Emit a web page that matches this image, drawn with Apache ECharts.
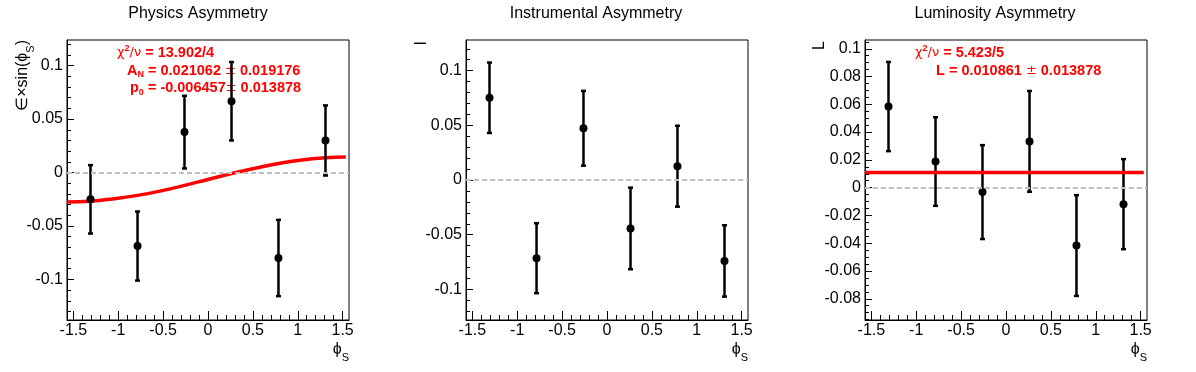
<!DOCTYPE html>
<html>
<head>
  <meta charset="UTF-8">
  <title>Asymmetries</title>
  <script src="https://cdn.jsdelivr.net/npm/echarts@6.0.0/dist/echarts.min.js"></script>
  <style>
    html, body { margin: 0; padding: 0; background: #fff; }
    #chart { width: 1196px; height: 372px; }
  </style>
</head>
<body>
  <div id="chart"></div>
  <script>
    // bin centres in phi_S
    const phiBins = [-1.309, -0.785, -0.262, 0.262, 0.785, 1.309]

    const physVal = [-0.0251, -0.0688, 0.0378, 0.0667, -0.0800, 0.0300]
    const physErr = [0.0320, 0.0323, 0.0340, 0.0367, 0.0357, 0.0328]

    const instVal = [0.0752, -0.0715, 0.0473, -0.0443, 0.0126, -0.0740]
    const instErr = [0.0322, 0.0320, 0.0342, 0.0373, 0.0370, 0.0326]

    const lumiVal = [0.0584, 0.0188, -0.0032, 0.0333, -0.0417, -0.0119]
    const lumiErr = [0.0321, 0.0319, 0.0338, 0.0363, 0.0363, 0.0324]

    // fitted curve of the physics panel
    const fitX = [-1.571, -1.309, -1.047, -0.785, -0.524, -0.262, 0, 0.262, 0.524, 0.785, 1.047, 1.309, 1.535]
    const fitY = [-0.0275, -0.0268, -0.0245, -0.0214, -0.0172, -0.0120, -0.0065, -0.0010, 0.0040, 0.0084, 0.0118, 0.0138, 0.0145]

    // constant fit of the luminosity panel
    const lumiFitX = [-1.571, 1.535]
    const lumiFit = 0.010861

    const xTicks = [-1.5, -1, -0.5, 0, 0.5, 1, 1.5]
    const physTicks = [-0.1, -0.05, 0, 0.05, 0.1]
    const instTicks = [-0.1, -0.05, 0, 0.05, 0.1]
    const lumiTicks = [-0.08, -0.06, -0.04, -0.02, 0, 0.02, 0.04, 0.06, 0.08, 0.1]

    const titles = ['Physics Asymmetry', 'Instrumental Asymmetry', 'Luminosity Asymmetry']

    const font = 'Liberation Sans, Arial, Helvetica, sans-serif'
    const red = '#ff0000'
    const xMin = -1.5708, xMax = 1.5708

    function minorTicks(lo, hi, step) {
      const out = []
      const n0 = Math.ceil(lo / step - 1e-9), n1 = Math.floor(hi / step + 1e-9)
      for (let i = n0; i <= n1; i++) out.push(Math.round(i * step * 1e6) / 1e6)
      return out
    }

    const panels = [
      { left: 67, vals: physVal, errs: physErr, yMin: -0.138, yMax: 0.124, ticks: physTicks, minor: 0.01, center: 198 },
      { left: 466, vals: instVal, errs: instErr, yMin: -0.128, yMax: 0.128, ticks: instTicks, minor: 0.01, center: 596 },
      { left: 865, vals: lumiVal, errs: lumiErr, yMin: -0.0953, yMax: 0.1063, ticks: lumiTicks, minor: 0.005, center: 995 }
    ]

    function renderBar(params, api) {
      const x = api.value(0), y = api.value(1), e = api.value(2)
      const c = api.coord([x, y])
      const hi = api.coord([x, y + e])
      const lo = api.coord([x, y - e])
      const st = { stroke: '#000', lineWidth: 2.5 }
      return {
        type: 'group',
        children: [
          { type: 'line', shape: { x1: c[0], y1: hi[1], x2: c[0], y2: lo[1] }, style: st },
          { type: 'line', shape: { x1: c[0] - 2.5, y1: hi[1], x2: c[0] + 2.5, y2: hi[1] }, style: st },
          { type: 'line', shape: { x1: c[0] - 2.5, y1: lo[1], x2: c[0] + 2.5, y2: lo[1] }, style: st },
          { type: 'circle', shape: { cx: c[0], cy: c[1], r: 4 }, style: { fill: '#000' } }
        ]
      }
    }

    const grid = [], xAxis = [], yAxis = [], series = []
    const black = { color: '#000', width: 1 }

    panels.forEach((p, i) => {
      grid.push({ left: p.left, top: 40, width: 282, height: 280, show: true, borderColor: '#000', borderWidth: 1 })

      xAxis.push({
        type: 'value', gridIndex: i, min: xMin, max: xMax, position: 'bottom',
        axisLine: { show: true, onZero: false, lineStyle: black },
        axisTick: { show: true, inside: true, length: 9, customValues: xTicks, lineStyle: black },
        axisLabel: { customValues: xTicks, color: '#000', fontSize: 16, fontFamily: font, margin: 3 },
        splitLine: { show: false }
      })
      xAxis.push({
        type: 'value', gridIndex: i, min: xMin, max: xMax, position: 'bottom',
        axisLine: { show: false, onZero: false },
        axisTick: { show: true, inside: true, length: 5, customValues: minorTicks(-1.5, 1.5, 0.1), lineStyle: black },
        axisLabel: { show: false },
        splitLine: { show: false }
      })

      yAxis.push({
        type: 'value', gridIndex: i, min: p.yMin, max: p.yMax, position: 'left',
        axisLine: { show: true, onZero: false, lineStyle: black },
        axisTick: { show: true, inside: true, length: 7, customValues: p.ticks, lineStyle: black },
        axisLabel: { customValues: p.ticks, color: '#000', fontSize: 16, fontFamily: font, margin: 4 },
        splitLine: { show: false }
      })
      yAxis.push({
        type: 'value', gridIndex: i, min: p.yMin, max: p.yMax, position: 'left',
        axisLine: { show: false, onZero: false },
        axisTick: { show: true, inside: true, length: 4, customValues: minorTicks(p.yMin, p.yMax, p.minor), lineStyle: black },
        axisLabel: { show: false },
        splitLine: { show: false }
      })

      series.push({
        type: 'custom',
        xAxisIndex: 2 * i, yAxisIndex: 2 * i,
        renderItem: renderBar,
        data: phiBins.map((x, k) => [x, p.vals[k], p.errs[k]]),
        z: 3,
        markLine: {
          silent: true, symbol: ['none', 'none'], label: { show: false },
          lineStyle: { type: [5, 3], color: '#c0c0c0', width: 2 },
          data: [{ yAxis: 0 }]
        }
      })
    })

    series.push({
      type: 'line', xAxisIndex: 0, yAxisIndex: 0, smooth: true, showSymbol: false, z: 2,
      lineStyle: { color: red, width: 3.5 },
      data: fitX.map((x, k) => [x, fitY[k]])
    })
    series.push({
      type: 'line', xAxisIndex: 4, yAxisIndex: 4, showSymbol: false, z: 5,
      lineStyle: { color: red, width: 3.5 },
      data: lumiFitX.map(x => [x, lumiFit])
    })

    // text pieces
    const axisRich = {
      t: { fontFamily: font, fontSize: 16, lineHeight: 27, fill: '#000' },
      s: { fontFamily: font, fontSize: 11, lineHeight: 10, verticalAlign: 'bottom', fill: '#000' }
    }
    const fitRich = {
      g: { fontFamily: 'DejaVu Sans', fontSize: 13, lineHeight: 18, fill: red },
      b: { fontFamily: font, fontSize: 14.5, fontWeight: 'bold', lineHeight: 18, fill: red },
      up: { fontFamily: font, fontSize: 9, fontWeight: 'bold', lineHeight: 11, verticalAlign: 'top', fill: red },
      dn: { fontFamily: font, fontSize: 9, fontWeight: 'bold', lineHeight: 11, verticalAlign: 'bottom', fill: red }
    }

    function txt(x, y, text, rich, align, rot, z) {
      return {
        type: 'text', x: x, y: y, rotation: rot || 0, z: z || 10,
        style: { text: text, rich: rich, align: align, verticalAlign: 'middle' }
      }
    }

    const graphic = []
    panels.forEach((p, i) => {
      graphic.push({
        type: 'text', x: p.center, y: 14,
        style: { text: titles[i], fontFamily: font, fontSize: 16, fill: '#000', align: 'center', verticalAlign: 'middle' }
      })
      graphic.push(txt(p.left + 282, 350, '{t|ϕ}{s|S}', axisRich, 'right'))
    })
    graphic.push(txt(23, 40, '{t|∈×sin(ϕ}{s|S}{t|)}', axisRich, 'right', Math.PI / 2))
    graphic.push(txt(422, 41, '{t|I}', axisRich, 'right', Math.PI / 2))
    graphic.push(txt(820, 41, '{t|L}', axisRich, 'right', Math.PI / 2))

    // fit results sit under the data points
    graphic.push(txt(117, 53, '{g|χ}{up|2}{g|/ν}{b| = 13.902/4}', fitRich, 'left', 0, 1))
    graphic.push(txt(127, 70.5, '{b|A}{dn|N}{b| = 0.021062 }{g|±}{b| 0.019176}', fitRich, 'left', 0, 1))
    graphic.push(txt(130, 88, '{b|p}{dn|0}{b| = -0.006457}{g|±}{b| 0.013878}', fitRich, 'left', 0, 1))
    graphic.push(txt(915, 53, '{g|χ}{up|2}{g|/ν}{b| = 5.423/5}', fitRich, 'left', 0, 1))
    graphic.push(txt(936, 70.5, '{b|L = 0.010861 }{g|±}{b| 0.013878}', fitRich, 'left', 0, 1))

    const myChart = echarts.init(document.getElementById('chart'))
    myChart.setOption({
      animation: false,
      backgroundColor: '#fff',
      grid: grid,
      xAxis: xAxis,
      yAxis: yAxis,
      series: series,
      graphic: graphic
    })
  </script>
</body>
</html>
